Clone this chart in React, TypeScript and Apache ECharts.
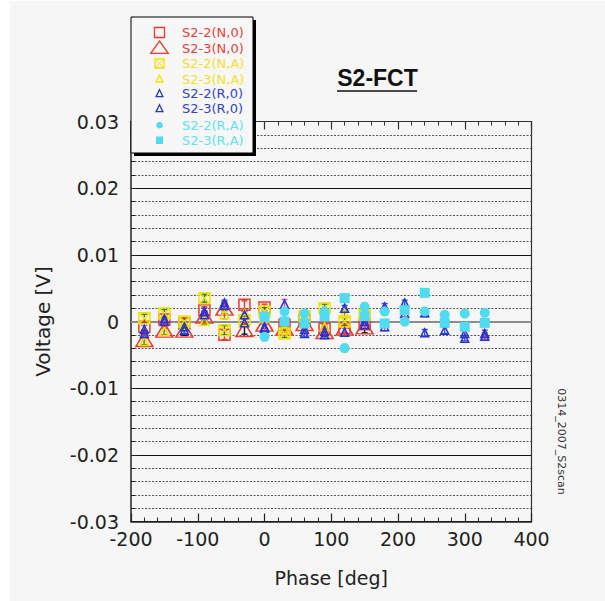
import React, { useEffect, useRef } from "react";
import * as echarts from "echarts";

// ---------- data ----------
const phases = [-180, -150, -120, -90, -60, -30, 0, 30, 60, 90, 120, 150, 180, 210, 240, 270, 300, 330];

const seriesNames = ["S2-2(N,0)", "S2-3(N,0)", "S2-2(N,A)", "S2-3(N,A)", "S2-2(R,0)", "S2-3(R,0)", "S2-2(R,A)", "S2-3(R,A)"];

const n0_2 = [-0.0008, 0.0003, -0.0003, 0.0017, -0.002, 0.0025, 0.0021, -0.0005, 0.0002, -0.0011, -0.001, -0.0004, null, null, null, null, null, null];
const n0_3 = [-0.0027, -0.0013, -0.0013, 0.0008, 0.002, -0.0012, -0.0004, -0.001, -0.0003, -0.0015, -0.001, -0.0008, null, null, null, null, null, null];
const nA_2 = [0.0005, 0.0012, 0.0, 0.0035, -0.0013, 0.0002, 0.0015, -0.0018, 0.0008, 0.002, 0.0, 0.001, null, null, null, null, null, null];
const nA_3 = [-0.003, -0.0015, -0.0006, 0.0, 0.001, 0.0012, 0.0005, -0.0012, 0.0, -0.0008, 0.0012, 0.0022, null, null, null, null, null, null];
const r0_2 = [-0.0018, 0.0, -0.0013, 0.0015, 0.0028, 0.001, -0.001, 0.0, -0.0018, -0.002, 0.002, 0.0, 0.0022, 0.0028, -0.0017, -0.0013, -0.0025, -0.0018];
const r0_3 = [-0.0012, 0.0004, -0.0008, 0.001, 0.0024, -0.0002, -0.0008, 0.0026, -0.0012, -0.0015, -0.0016, -0.0005, -0.0008, 0.0012, 0.0013, 0.0005, -0.0018, -0.0022];
const rA_2 = [null, null, null, null, null, null, -0.0023, 0.0015, 0.0012, 0.0015, -0.004, 0.0022, 0.0015, 0.0, 0.0015, 0.001, 0.0012, 0.0013];
const rA_3 = [null, null, null, null, null, null, 0.0007, 0.0, -0.0003, 0.0008, 0.0035, 0.0008, -0.0003, 0.0017, 0.0043, -0.0002, -0.0008, -0.0002];

const e_n0_2 = [0.0006, 0.0005, 0.0006, 0.0005, 0.0007, 0.0006, 0.0005, 0.0006, 0.0005, 0.0006, 0.0007, 0.0006, 0, 0, 0, 0, 0, 0];
const e_n0_3 = [0.0008, 0.0007, 0.0008, 0.0007, 0.0008, 0.0007, 0.0006, 0.0007, 0.0008, 0.0007, 0.0008, 0.0009, 0, 0, 0, 0, 0, 0];
const e_nA_2 = [0.0006, 0.0006, 0.0005, 0.0006, 0.0007, 0.0005, 0.0006, 0.0006, 0.0005, 0.0006, 0.0006, 0.0005, 0, 0, 0, 0, 0, 0];
const e_nA_3 = [0.0005, 0.0005, 0.0006, 0.0005, 0.0006, 0.0005, 0.0005, 0.0006, 0.0005, 0.0005, 0.0006, 0.0005, 0, 0, 0, 0, 0, 0];
const e_r0_2 = [0.0005, 0.0004, 0.0005, 0.0005, 0.0004, 0.0005, 0.0005, 0.0004, 0.0005, 0.0005, 0.0004, 0.0005, 0.0005, 0.0004, 0.0005, 0.0005, 0.0004, 0.0005];
const e_r0_3 = [0.0006, 0.0006, 0.0005, 0.0006, 0.0006, 0.0005, 0.0006, 0.0007, 0.0006, 0.0005, 0.0006, 0.0006, 0.0006, 0.0005, 0.0006, 0.0006, 0.0006, 0.0005];
const e_rA_2 = [0, 0, 0, 0, 0, 0, 0.0006, 0.0005, 0.0006, 0.0005, 0.0006, 0.0005, 0.0006, 0.0006, 0.0006, 0.0005, 0.0006, 0.0005];
const e_rA_3 = [0, 0, 0, 0, 0, 0, 0.0006, 0.0005, 0.0006, 0.0006, 0.0006, 0.0005, 0.0006, 0.0005, 0.0006, 0.0005, 0.0006, 0.0006];

const xTicks = { min: -200, max: 400, interval: 100 };
const yTicks = { min: -0.03, max: 0.03, interval: 0.01 };

// ---------- styles ----------
const RED = "#ee3a2c";
const YEL = "#f2e200";
const BLUE = "#2434cc";
const CYAN = "#4fdcf2";
const FONT = "DejaVu Sans";

const XBOX = "path://M0,0L10,0L10,10L0,10Z M0,0L10,10 M10,0L0,10";

const specs = [
  { vals: n0_2, errs: e_n0_2, symbol: "rect", size: 11, fill: "rgba(0,0,0,0)", stroke: RED, ebar: "#e8342a" },
  { vals: n0_3, errs: e_n0_3, symbol: "triangle", size: [17, 14], fill: "rgba(0,0,0,0)", stroke: RED, ebar: "#111111" },
  { vals: nA_2, errs: e_nA_2, symbol: XBOX, size: 11, fill: "rgba(0,0,0,0)", stroke: YEL, ebar: "#2f7d32" },
  { vals: nA_3, errs: e_nA_3, symbol: "triangle", size: [9, 8], fill: "rgba(0,0,0,0)", stroke: YEL, ebar: "#8a8a10" },
  { vals: r0_2, errs: e_r0_2, symbol: "triangle", size: [8, 8], fill: "rgba(0,0,0,0)", stroke: BLUE, ebar: "#3050ff" },
  { vals: r0_3, errs: e_r0_3, symbol: "triangle", size: [8, 8], fill: "rgba(0,0,0,0)", stroke: BLUE, ebar: "#ff3c9c" },
  { vals: rA_2, errs: e_rA_2, symbol: "circle", size: 10, fill: CYAN, stroke: CYAN, ebar: "#ecd400" },
  { vals: rA_3, errs: e_rA_3, symbol: "rect", size: 10, fill: CYAN, stroke: CYAN, ebar: "#ff8420" },
];

function buildData(vals: (number | null)[], errs: number[]) {
  const out: number[][] = [];
  phases.forEach((p, i) => {
    const v = vals[i];
    if (v !== null && v !== undefined) out.push([p, v, errs[i]]);
  });
  return out;
}

function errorBar(name: string, data: number[][], color: string) {
  return {
    type: "custom",
    name: name + " err",
    data,
    silent: true,
    z: 3,
    encode: { x: 0, y: 1 },
    renderItem: (params: any, api: any) => {
      const x = api.value(0);
      const y = api.value(1);
      const e = api.value(2);
      const t = api.coord([x, y + e]);
      const b = api.coord([x, y - e]);
      const hw = 3;
      const st = { stroke: color, lineWidth: 1.4 };
      return {
        type: "group",
        children: [
          { type: "line", shape: { x1: t[0], y1: t[1], x2: b[0], y2: b[1] }, style: st },
          { type: "line", shape: { x1: t[0] - hw, y1: t[1], x2: t[0] + hw, y2: t[1] }, style: st },
          { type: "line", shape: { x1: b[0] - hw, y1: b[1], x2: b[0] + hw, y2: b[1] }, style: st },
        ],
      };
    },
  };
}

function legendElements() {
  const lx = 131, ly = 17, lw = 122, lh = 136;
  const ix = 159.5, tx = 182;
  const rows = [32.5, 48.5, 63.5, 79, 93.7, 108.7, 125.2, 140.2];
  const textColors = ["#e2433a", "#e2433a", "#eee030", "#eee030", "#3444c4", "#3444c4", "#64e0f2", "#64e0f2"];
  const els: any[] = [
    { type: "rect", shape: { x: lx + 3, y: ly + 3, width: lw, height: lh }, style: { fill: "#000" } },
    { type: "rect", shape: { x: lx, y: ly, width: lw, height: lh }, style: { fill: "#f7f7f7", stroke: "#000", lineWidth: 1 } },
  ];
  const sw = { lineWidth: 1.3, fill: "none" };
  els.push({ type: "rect", shape: { x: ix - 5, y: rows[0] - 5, width: 10, height: 10 }, style: { ...sw, stroke: RED } });
  els.push({ type: "polygon", shape: { points: [[ix, rows[1] - 7.5], [ix + 8.8, rows[1] + 4.8], [ix - 8.8, rows[1] + 4.8]] }, style: { ...sw, stroke: RED } });
  els.push({ type: "rect", shape: { x: ix - 4.5, y: rows[2] - 4.5, width: 9, height: 9 }, style: { ...sw, stroke: YEL } });
  els.push({ type: "line", shape: { x1: ix - 4.5, y1: rows[2] - 4.5, x2: ix + 4.5, y2: rows[2] + 4.5 }, style: { lineWidth: 1, stroke: YEL } });
  els.push({ type: "line", shape: { x1: ix + 4.5, y1: rows[2] - 4.5, x2: ix - 4.5, y2: rows[2] + 4.5 }, style: { lineWidth: 1, stroke: YEL } });
  els.push({ type: "polygon", shape: { points: [[ix, rows[3] - 4], [ix + 3.5, rows[3] + 3], [ix - 3.5, rows[3] + 3]] }, style: { ...sw, stroke: YEL } });
  els.push({ type: "polygon", shape: { points: [[ix, rows[4] - 4], [ix + 3.4, rows[4] + 3], [ix - 3.4, rows[4] + 3]] }, style: { ...sw, stroke: BLUE } });
  els.push({ type: "polygon", shape: { points: [[ix, rows[5] - 4], [ix + 3.4, rows[5] + 3], [ix - 3.4, rows[5] + 3]] }, style: { ...sw, stroke: BLUE } });
  els.push({ type: "circle", shape: { cx: ix, cy: rows[6], r: 3.3 }, style: { fill: CYAN } });
  els.push({ type: "rect", shape: { x: ix - 3.5, y: rows[7] - 3.7, width: 7, height: 7.5 }, style: { fill: CYAN } });
  seriesNames.forEach((n, i) => {
    els.push({
      type: "text",
      x: tx,
      y: rows[i],
      style: { text: n, fill: textColors[i], font: `13px "${FONT}"`, align: "left", verticalAlign: "middle" },
    });
  });
  return els.map((e, i) => ({ ...e, z: 100 + i, zlevel: 0 }));
}

export default function App() {
  const ref = useRef<HTMLDivElement>(null);
  useEffect(() => {
    if (!ref.current) return;
    const chart = echarts.init(ref.current, undefined, { renderer: "svg" });
    const series: any[] = [];
    specs.forEach((s, i) => {
      const data = buildData(s.vals, s.errs);
      series.push(errorBar(seriesNames[i], data, s.ebar));
      const sc: any = {
        type: "scatter",
        name: seriesNames[i],
        data: data.map((d) => [d[0], d[1]]),
        symbol: s.symbol,
        symbolSize: s.size,
        z: 4,
        itemStyle: { color: s.fill, borderColor: s.stroke, borderWidth: s.fill === CYAN ? 0 : 1.5, opacity: 1 },
      };
      if (i === 0) {
        sc.markLine = {
          silent: true,
          symbol: "none",
          label: { show: false },
          lineStyle: { color: "#8c8c8c", width: 2, type: "solid" },
          data: [{ yAxis: 0 }],
          z: 1,
        };
      }
      series.push(sc);
    });

    const axisLabel = { fontSize: 19, color: "#222", fontFamily: FONT };
    chart.setOption({
      animation: false,
      backgroundColor: "transparent",
      grid: { left: 131, right: 73.5, top: 121.5, bottom: 79.5, containLabel: false },
      xAxis: [
        {
          type: "value",
          position: "bottom",
          ...xTicks,
          name: "Phase [deg]",
          nameLocation: "middle",
          nameGap: 47,
          nameTextStyle: { fontSize: 19, color: "#222", fontFamily: FONT },
          axisLine: { show: true, onZero: false, lineStyle: { color: "#222", width: 1.5 } },
          axisTick: { show: true, inside: true, length: 8, lineStyle: { color: "#222", width: 1.2 } },
          minorTick: { show: true, splitNumber: 5, length: 4, lineStyle: { color: "#222", width: 1 } },
          axisLabel: { ...axisLabel, margin: 8 },
          splitLine: { show: false },
        },
        {
          type: "value",
          position: "top",
          ...xTicks,
          axisLine: { show: true, onZero: false, lineStyle: { color: "#333", width: 1.2 } },
          axisTick: { show: true, inside: true, length: 8, lineStyle: { color: "#333", width: 1.2 } },
          minorTick: { show: true, splitNumber: 5, length: 4, lineStyle: { color: "#333", width: 1 } },
          axisLabel: { show: false },
          splitLine: { show: false },
        },
      ],
      yAxis: [
        {
          type: "value",
          position: "left",
          ...yTicks,
          name: "Voltage [V]",
          nameLocation: "middle",
          nameGap: 78,
          nameTextStyle: { fontSize: 20, color: "#222", fontFamily: FONT },
          axisLine: { show: true, onZero: false, lineStyle: { color: "#222", width: 1.5 } },
          axisTick: { show: true, inside: true, length: 6, lineStyle: { color: "#222" } },
          minorTick: { show: true, splitNumber: 5, length: 4, lineStyle: { color: "#222" } },
          axisLabel: { ...axisLabel, margin: 12 },
          splitLine: { show: true, lineStyle: { color: "#111", width: 1, type: "solid" } },
          minorSplitLine: { show: true, lineStyle: { color: "#555", width: 1, type: [2, 1.5] } },
        },
        {
          type: "value",
          position: "right",
          ...yTicks,
          axisLine: { show: true, onZero: false, lineStyle: { color: "#333", width: 1.2 } },
          axisTick: { show: false },
          axisLabel: { show: false },
          splitLine: { show: false },
        },
      ],
      graphic: {
        elements: [
          ...legendElements(),
          {
            type: "text",
            x: 377.5,
            y: 78,
            z: 100,
            style: { text: "S2-FCT", font: `bold 23px "Liberation Sans"`, fill: "#111", align: "center", verticalAlign: "middle" },
          },
          { type: "line", z: 100, shape: { x1: 337, y1: 91, x2: 417, y2: 91 }, style: { stroke: "#111", lineWidth: 1.6 } },
          {
            type: "text",
            x: 561.5,
            y: 441.5,
            rotation: -Math.PI / 2,
            z: 100,
            style: { text: "0314_2007_S2scan", font: `11px "${FONT}"`, fill: "#333", align: "center", verticalAlign: "middle" },
          },
        ],
      },
      series,
    });
    return () => chart.dispose();
  }, []);

  return (
    <div style={{ position: "fixed", left: 0, top: 0, width: 605, height: 601, background: "#fff" }}>
      <div style={{ position: "absolute", left: 10, top: 1, width: 595, height: 600, background: "#f6f6f6" }} />
      <div ref={ref} style={{ position: "absolute", left: 0, top: 0, width: 605, height: 601 }} />
    </div>
  );
}
